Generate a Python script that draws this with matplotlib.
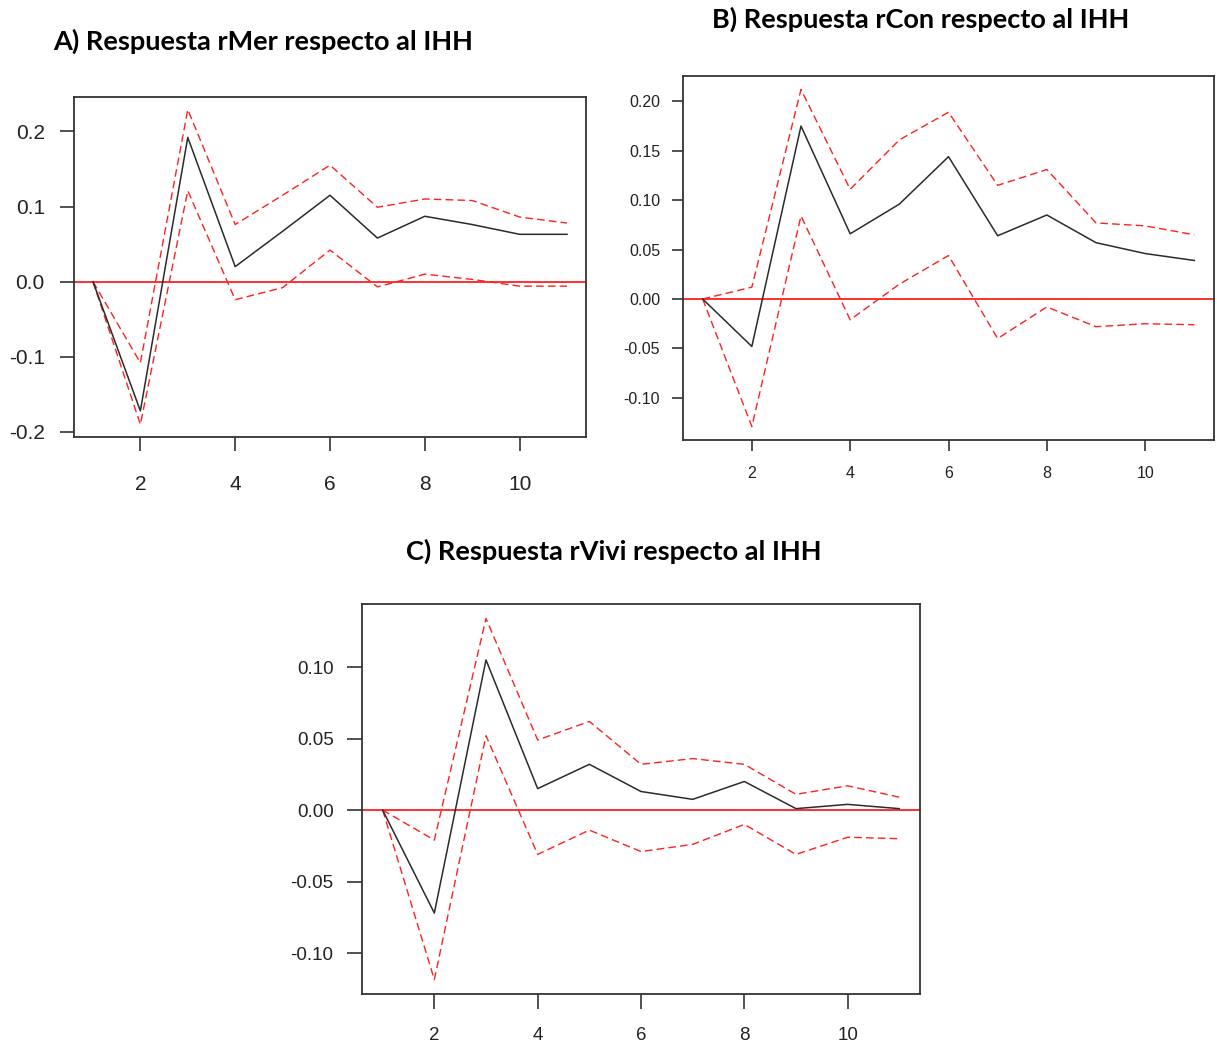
import matplotlib
matplotlib.use("Agg")
import matplotlib.pyplot as plt
import numpy as np

# Horizon (periods) for the impulse responses
periods = [1, 2, 3, 4, 5, 6, 7, 8, 9, 10, 11]

# A) rMer response to an IHH shock
mer_irf = [0.0, -0.172, 0.192, 0.020, 0.067, 0.115, 0.058, 0.087, 0.076, 0.063, 0.063]
mer_upper = [0.0, -0.108, 0.229, 0.076, 0.115, 0.155, 0.099, 0.110, 0.108, 0.086, 0.078]
mer_lower = [0.0, -0.190, 0.121, -0.024, -0.008, 0.042, -0.007, 0.010, 0.003, -0.006, -0.006]

# B) rCon response to an IHH shock
con_irf = [0.0, -0.048, 0.175, 0.066, 0.096, 0.144, 0.064, 0.085, 0.057, 0.046, 0.039]
con_upper = [0.0, 0.012, 0.212, 0.111, 0.161, 0.189, 0.115, 0.131, 0.077, 0.074, 0.065]
con_lower = [0.0, -0.129, 0.084, -0.021, 0.015, 0.044, -0.040, -0.008, -0.028, -0.025, -0.026]

# C) rVivi response to an IHH shock
viv_irf = [0.0, -0.072, 0.105, 0.015, 0.032, 0.013, 0.0075, 0.020, 0.001, 0.004, 0.001]
viv_upper = [0.0, -0.021, 0.134, 0.049, 0.062, 0.032, 0.036, 0.032, 0.011, 0.017, 0.009]
viv_lower = [0.0, -0.1185, 0.052, -0.031, -0.014, -0.029, -0.024, -0.010, -0.031, -0.019, -0.020]

x_ticks = [2, 4, 6, 8, 10]
mer_yticks = [-0.2, -0.1, 0.0, 0.1, 0.2]
mer_ylabels = ["-0.2", "-0.1", "0.0", "0.1", "0.2"]
con_yticks = [-0.10, -0.05, 0.0, 0.05, 0.10, 0.15, 0.20]
con_ylabels = ["-0.10", "-0.05", "0.00", "0.05", "0.10", "0.15", "0.20"]
viv_yticks = [-0.10, -0.05, 0.0, 0.05, 0.10]
viv_ylabels = ["-0.10", "-0.05", "0.00", "0.05", "0.10"]

titles = ["A) Respuesta rMer respecto al IHH",
          "B) Respuesta rCon respecto al IHH",
          "C) Respuesta rVivi respecto al IHH"]

W, H = 1217, 1046
fig = plt.figure(figsize=(W / 100, H / 100), dpi=100)
fig.patch.set_facecolor("white")

INK = "#333333"


def px_axes(left, top, right, bottom):
    return fig.add_axes([left / W, 1 - bottom / H, (right - left) / W, (bottom - top) / H])


def r_range(lo, hi):
    # R-style 4% padding around the data range
    span = hi - lo
    return lo - 0.04 * span, hi + 0.04 * span


def irf_panel(ax, irf, upper, lower, yticks, ylabels, fsize, tlen, xpad, ypad):
    ax.plot(periods, irf, color="#2b2b2b", lw=1.1, zorder=3)
    ax.plot(periods, upper, color="#ff2020", lw=1.0, ls=(0, (5.5, 3)), zorder=2)
    ax.plot(periods, lower, color="#ff2020", lw=1.0, ls=(0, (5.5, 3)), zorder=2)
    ax.axhline(0, color="#ff2020", lw=1.3, zorder=1)
    ax.set_xlim(0.6, 11.4)
    ax.set_ylim(*r_range(min(lower), max(upper)))
    ax.set_xticks(x_ticks)
    ax.set_xticklabels([str(t) for t in x_ticks])
    ax.set_yticks(yticks)
    ax.set_yticklabels(ylabels)
    for s in ax.spines.values():
        s.set_color(INK)
        s.set_linewidth(1.3)
    ax.tick_params(axis="both", colors=INK, width=1.2, length=tlen,
                   labelsize=fsize, labelcolor="#222222")
    ax.tick_params(axis="x", pad=xpad)
    ax.tick_params(axis="y", pad=ypad)
    for lab in ax.get_xticklabels() + ax.get_yticklabels():
        lab.set_family("Liberation Sans")


axA = px_axes(74, 97, 586, 437)
irf_panel(axA, mer_irf, mer_upper, mer_lower, mer_yticks, mer_ylabels,
          15, 10, 17, 11)

axB = px_axes(683, 76, 1214, 440)
irf_panel(axB, con_irf, con_upper, con_lower, con_yticks, con_ylabels,
          11.5, 8, 11, 8.5)

axC = px_axes(362, 604, 920, 994)
irf_panel(axC, viv_irf, viv_upper, viv_lower, viv_yticks, viv_ylabels,
          13.5, 10.5, 13, 10)

title_kw = dict(fontsize=19.5, fontweight="bold", family="Lato", color="black",
                ha="center", va="center")
fig.text(263 / W, 1 - 41 / H, titles[0], **title_kw)
fig.text(921 / W, 1 - 19 / H, titles[1], **title_kw)
fig.text(614 / W, 1 - 551 / H, titles[2], **title_kw)

fig.savefig("out.png", dpi=100, facecolor="white")
